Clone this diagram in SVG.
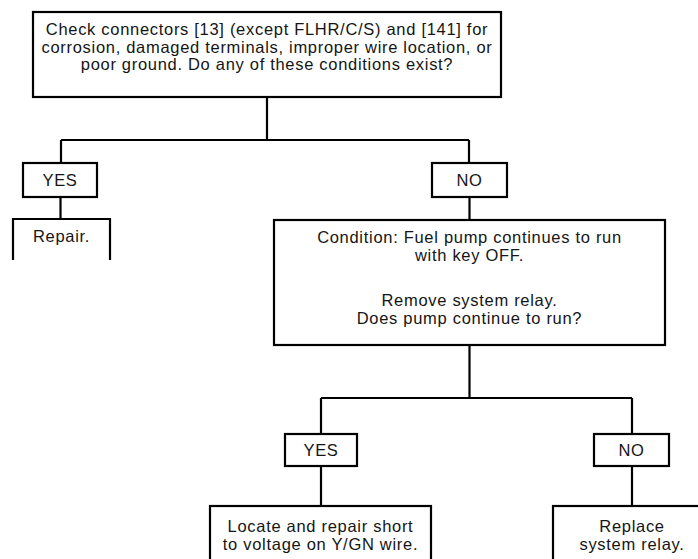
<svg xmlns="http://www.w3.org/2000/svg" width="698" height="559" viewBox="0 0 698 559">
<style>
.box{fill:#fff;stroke:#000;stroke-width:2.2}
.ln{fill:none;stroke:#000;stroke-width:2.2}
text{font-family:"Liberation Sans",Arial,sans-serif;font-size:16.5px;letter-spacing:0.7px;fill:#151515;text-anchor:middle}
</style>
<rect width="698" height="559" fill="#fff"/>
<g id="connectors">
<path class="ln" d="M267 97V140M61 140H469M61 140V163M469 140V163M60.5 197V219M469.5 197V220M469.5 345V398M321 398H632M321 398V434M632 398V434M321 466V506M632 466V506"/>
</g>
<g id="check">
<rect class="box" x="33" y="12" width="468" height="85"/>
<text x="267" y="35">Check connectors [13] (except FLHR/C/S) and [141] for</text>
<text x="267" y="52.5">corrosion, damaged terminals, improper wire location, or</text>
<text x="267" y="70">poor ground. Do any of these conditions exist?</text>
</g>
<g id="yes1">
<rect class="box" x="23" y="163" width="74" height="34"/>
<text x="60" y="186">YES</text>
</g>
<g id="no1">
<rect class="box" x="432" y="163" width="75" height="34"/>
<text x="469.5" y="186">NO</text>
</g>
<g id="repair">
<path class="box" d="M13 260V219H110V260"/>
<text x="61.5" y="242">Repair.</text>
</g>
<g id="condition">
<rect class="box" x="274" y="220" width="391" height="125"/>
<text x="469.5" y="242.5">Condition: Fuel pump continues to run</text>
<text x="469.5" y="261">with key OFF.</text>
<text x="469.5" y="306">Remove system relay.</text>
<text x="469.5" y="324">Does pump continue to run?</text>
</g>
<g id="yes2">
<rect class="box" x="285" y="434" width="72" height="32"/>
<text x="321" y="456">YES</text>
</g>
<g id="no2">
<rect class="box" x="594" y="434" width="75" height="32"/>
<text x="631.5" y="456">NO</text>
</g>
<g id="locate">
<rect class="box" x="210" y="506" width="221" height="70"/>
<text x="320.5" y="531.5">Locate and repair short</text>
<text x="320.5" y="549.5">to voltage on Y/GN wire.</text>
</g>
<g id="replace">
<rect class="box" x="553" y="506" width="158" height="70"/>
<text x="632" y="531.5">Replace</text>
<text x="632" y="549.5">system relay.</text>
</g>
</svg>
